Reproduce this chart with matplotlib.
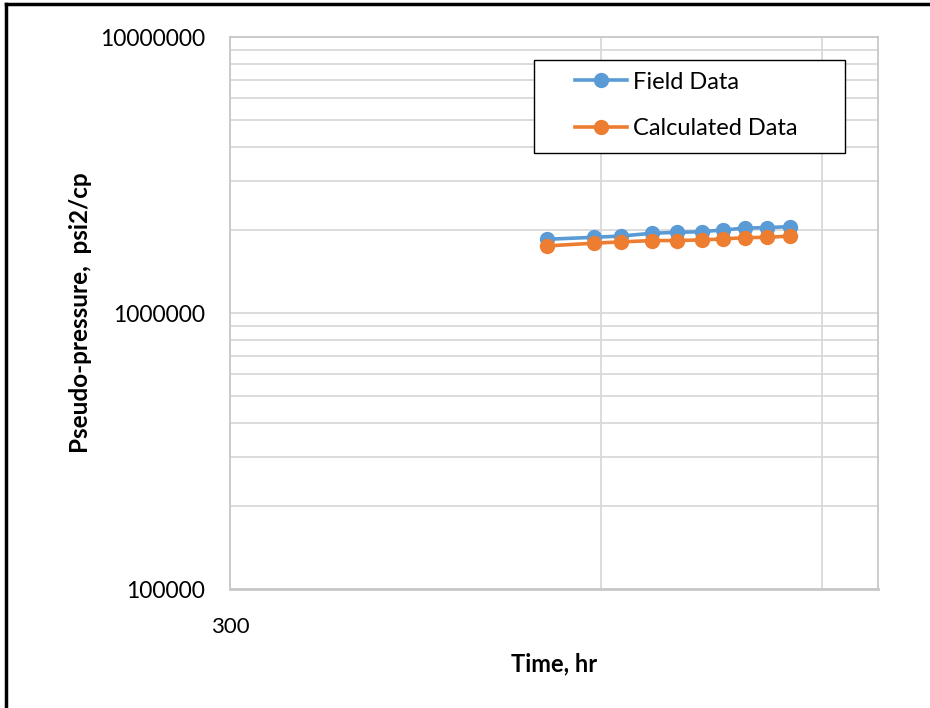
import matplotlib.pyplot as plt
from matplotlib.lines import Line2D
from matplotlib.patches import Rectangle
from matplotlib.ticker import FixedLocator, NullFormatter, LogLocator

# time, hr
time_hr = [2140, 2860, 3390, 4110, 4800, 5600, 6390, 7330, 8390, 9690]
# pseudo-pressure, psi2/cp
field_data = [1.85e6, 1.88e6, 1.90e6, 1.945e6, 1.96e6, 1.97e6, 2.00e6, 2.03e6, 2.04e6, 2.055e6]
calc_data = [1.75e6, 1.79e6, 1.81e6, 1.83e6, 1.83e6, 1.84e6, 1.855e6, 1.875e6, 1.88e6, 1.90e6]

x_grid = [3000, 11800]
x_min, x_max = 300, 16700
y_min, y_max = 1e5, 1e7

plt.rcParams['font.family'] = ['Lato', 'DejaVu Sans']

fig = plt.figure(figsize=(9.3, 7.08), dpi=100)
ax = fig.add_axes([230 / 930, 1 - 589 / 708, 648 / 930, 552 / 708])

blue = '#5B9BD5'
orange = '#ED7D31'
ax.plot(time_hr, field_data, '-o', color=blue, lw=2.6, ms=10, label='Field Data', zorder=3)
ax.plot(time_hr, calc_data, '-o', color=orange, lw=2.6, ms=10, label='Calculated Data', zorder=4)

ax.set_xscale('log')
ax.set_yscale('log')
ax.set_xlim(x_min, x_max)
ax.set_ylim(y_min, y_max)

# x axis: only the 300 label, gridlines at two spots
ax.xaxis.set_major_locator(FixedLocator([x_min]))
ax.xaxis.set_minor_locator(FixedLocator(x_grid))
ax.xaxis.set_minor_formatter(NullFormatter())
ax.set_xticklabels(['300'])

ax.yaxis.set_major_locator(FixedLocator([1e5, 1e6, 1e7]))
ax.set_yticklabels(['100000', '1000000', '10000000'])
ax.yaxis.set_minor_locator(LogLocator(base=10, subs=range(2, 10)))
ax.yaxis.set_minor_formatter(NullFormatter())

ax.tick_params(which='both', length=0)
ax.tick_params(axis='y', labelsize=16.5, pad=18)
ax.tick_params(axis='x', labelsize=16, pad=20)

ax.grid(True, which='both', color='#D9D9D9', lw=1.3)
ax.set_axisbelow(True)
for s in ax.spines.values():
    s.set_color('#C8C8C8')
    s.set_linewidth(1.3)
ax.spines['bottom'].set_linewidth(2)

ax.set_xlabel('Time, hr', fontsize=17, fontweight='bold', labelpad=11)
ax.set_ylabel('Pseudo-pressure,  psi2/cp', fontsize=17.5, fontweight='bold', labelpad=6)

# legend box drawn by hand so the padding matches
ax.add_patch(Rectangle(((534 - 230) / 648, (589 - 153) / 552), (845 - 534) / 648, 93 / 552,
                       transform=ax.transAxes, facecolor='white', edgecolor='black',
                       lw=1.0, zorder=5))
leg = ax.legend(loc='center left', bbox_to_anchor=((575 - 230) / 648, (589 - 105.5) / 552),
                borderaxespad=0, borderpad=0, frameon=False, fontsize=17,
                handlelength=2.2, handletextpad=0.25, labelspacing=1.1)
leg.set_zorder(6)

# black frame at top and left of the screenshot
fig.add_artist(Line2D([6 / 930, 1.01], [1 - 4 / 708, 1 - 4 / 708], color='black', lw=2.5,
                      transform=fig.transFigure))
fig.add_artist(Line2D([6 / 930, 6 / 930], [-0.01, 1 - 4 / 708], color='black', lw=2.5,
                      transform=fig.transFigure))

fig.savefig('out.png', dpi=100)
